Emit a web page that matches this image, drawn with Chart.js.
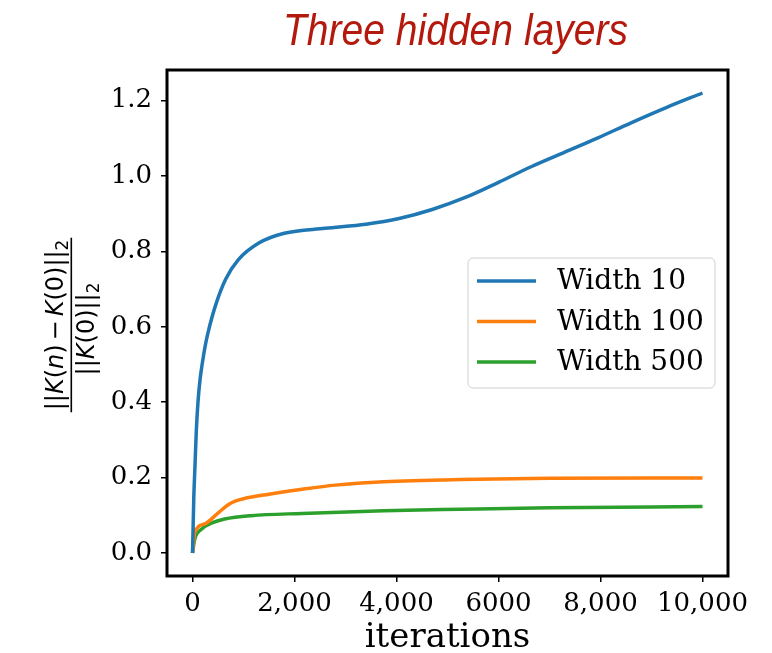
<!DOCTYPE html>
<html>
<head>
<meta charset="utf-8">
<script src="https://cdn.jsdelivr.net/npm/chart.js@4/dist/chart.umd.min.js"></script>
<style>
  html, body { margin: 0; padding: 0; background: #ffffff; }
  #wrap { width: 772px; height: 653px; }
</style>
</head>
<body>
<div id="wrap"><canvas id="c" width="772" height="653"></canvas></div>
<script>
// Kernel drift ||K(n) - K(0)||_2 / ||K(0)||_2 against training iterations
const titleText = 'Three hidden layers';
const xAxisTitle = 'iterations';

const seriesLabels = ['Width 10', 'Width 100', 'Width 500'];
const seriesColors = ['#1f77b4', '#ff7f0e', '#2ca02c'];

const width10Iter = [0, 10, 25, 50, 75, 110, 150, 200, 250, 300, 450, 650, 900, 1300, 1800, 2600, 3400, 4050, 4700, 5350, 6000, 6650, 7300, 7950, 8600, 9300, 10000];
const width10Vals = [0.0, 0.055, 0.145, 0.235, 0.325, 0.405, 0.462, 0.510, 0.550, 0.582, 0.656, 0.726, 0.778, 0.822, 0.848, 0.861, 0.872, 0.887, 0.911, 0.943, 0.983, 1.025, 1.063, 1.101, 1.141, 1.182, 1.220];

const width100Iter = [0, 45, 240, 500, 700, 850, 1000, 1500, 2150, 2800, 3750, 5250, 7000, 10000];
const width100Vals = [0.0, 0.055, 0.077, 0.106, 0.128, 0.138, 0.144, 0.156, 0.169, 0.180, 0.189, 0.195, 0.198, 0.199];

const width500Iter = [0, 45, 175, 370, 630, 1150, 2150, 3750, 5250, 7000, 10000];
const width500Vals = [0.0, 0.037, 0.063, 0.079, 0.090, 0.099, 0.105, 0.112, 0.116, 0.120, 0.123];

const xTickValues = [0, 2000, 4000, 6000, 8000, 10000];
const xTickLabels = ['0', '2,000', '4,000', '6000', '8,000', '10,000'];
const yTickValues = [0.0, 0.2, 0.4, 0.6, 0.8, 1.0, 1.2];
const yTickLabels = ['0.0', '0.2', '0.4', '0.6', '0.8', '1.0', '1.2'];

const pairs = (xs, ys) => xs.map((x, i) => ({ x: x, y: ys[i] }));
const seriesData = [
  pairs(width10Iter, width10Vals),
  pairs(width100Iter, width100Vals),
  pairs(width500Iter, width500Vals)
];

const SERIF = '"DejaVu Serif", "Liberation Serif", serif';
const SANS = '"DejaVu Sans", sans-serif';

// heavy black box around the plotting area
const framePlugin = {
  id: 'frame',
  afterDatasetsDraw(chart) {
    const a = chart.chartArea, ctx = chart.ctx;
    ctx.save();
    ctx.strokeStyle = '#000';
    ctx.lineWidth = 3;
    ctx.strokeRect(a.left, a.top, a.right - a.left, a.bottom - a.top);
    ctx.restore();
  }
};

// red italic heading over the axes, plus the x-axis caption
const headingPlugin = {
  id: 'heading',
  afterDraw(chart) {
    const ctx = chart.ctx, a = chart.chartArea;
    const mid = (a.left + a.right) / 2;
    ctx.save();
    ctx.font = 'italic 44px "Liberation Sans Narrow", "Liberation Sans", sans-serif';
    ctx.fillStyle = '#b31a0d';
    ctx.textBaseline = 'alphabetic';
    const w = ctx.measureText(titleText).width;
    ctx.translate(mid + 8, 45);
    ctx.scale(345 / w, 1);
    ctx.textAlign = 'center';
    ctx.fillText(titleText, 0, 0);
    ctx.restore();

    ctx.save();
    ctx.font = '34px ' + SERIF;
    ctx.fillStyle = '#000';
    ctx.textAlign = 'center';
    ctx.textBaseline = 'alphabetic';
    ctx.fillText(xAxisTitle, mid, 647);
    ctx.restore();
  }
};

// rotated fraction used as the y-axis label
function drawRuns(ctx, runs, size, startU, baseV) {
  let u = startU;
  for (const r of runs) {
    if (r.sub) {
      ctx.font = (size * 0.7) + 'px ' + SANS;
      ctx.fillText(r.t, u, baseV + size * 0.2);
      u += ctx.measureText(r.t).width;
    } else {
      ctx.font = (r.it ? 'italic ' : '') + size + 'px ' + SANS;
      ctx.fillText(r.t, u, baseV);
      u += ctx.measureText(r.t).width + (r.gap || 0);
    }
  }
}
function runsWidth(ctx, runs, size) {
  let w = 0;
  for (const r of runs) {
    ctx.font = (r.sub ? '' : (r.it ? 'italic ' : '')) + (r.sub ? size * 0.7 : size) + 'px ' + SANS;
    w += ctx.measureText(r.t).width + (r.gap || 0);
  }
  return w;
}
const yLabelPlugin = {
  id: 'yLabel',
  afterDraw(chart) {
    const ctx = chart.ctx;
    const size = 24;
    const num = [
      { t: '||' }, { t: 'K', it: true }, { t: '(' }, { t: 'n', it: true }, { t: ')', gap: 4 },
      { t: '\u2212', gap: 4 }, { t: 'K', it: true }, { t: '(0)||' }, { t: '2', sub: true }
    ];
    const den = [{ t: '||' }, { t: 'K', it: true }, { t: '(0)||' }, { t: '2', sub: true }];
    ctx.save();
    ctx.fillStyle = '#000';
    ctx.textBaseline = 'alphabetic';
    ctx.textAlign = 'left';
    ctx.translate(0, 325);
    ctx.rotate(-Math.PI / 2);
    // u runs upward on screen, v runs rightward on screen
    const wn = runsWidth(ctx, num, size);
    const wd = runsWidth(ctx, den, size);
    drawRuns(ctx, num, size, -wn / 2, 63);
    drawRuns(ctx, den, size, -wd / 2 - 4, 94);
    ctx.fillRect(-wn / 2 - 2, 70.5, wn + 4, 1.6);
    ctx.restore();
  }
};

// legend box inside the axes, built from the datasets
const legendBoxPlugin = {
  id: 'legendBox',
  afterDraw(chart) {
    const ctx = chart.ctx;
    const x0 = 468, y0 = 258, w = 247, h = 130, r = 5;
    ctx.save();
    ctx.beginPath();
    ctx.moveTo(x0 + r, y0);
    ctx.arcTo(x0 + w, y0, x0 + w, y0 + h, r);
    ctx.arcTo(x0 + w, y0 + h, x0, y0 + h, r);
    ctx.arcTo(x0, y0 + h, x0, y0, r);
    ctx.arcTo(x0, y0, x0 + w, y0, r);
    ctx.closePath();
    ctx.fillStyle = 'rgba(255,255,255,0.8)';
    ctx.fill();
    ctx.strokeStyle = '#d0d0d0';
    ctx.lineWidth = 1;
    ctx.stroke();
    ctx.font = '28px ' + SERIF;
    ctx.textBaseline = 'middle';
    ctx.textAlign = 'left';
    chart.data.datasets.forEach((ds, i) => {
      const y = 281 + i * 40.5;
      ctx.strokeStyle = ds.borderColor;
      ctx.lineWidth = 3.5;
      ctx.beginPath();
      ctx.moveTo(477, y);
      ctx.lineTo(536, y);
      ctx.stroke();
      ctx.fillStyle = '#000';
      ctx.fillText(ds.label, 557, y + 1);
    });
    ctx.restore();
  }
};

const chart = new Chart(document.getElementById('c'), {
  type: 'line',
  data: {
    datasets: seriesLabels.map((label, i) => ({
      label: label,
      data: seriesData[i],
      borderColor: seriesColors[i],
      backgroundColor: seriesColors[i],
      borderWidth: 3.5,
      pointRadius: 0,
      fill: false,
      cubicInterpolationMode: 'monotone'
    }))
  },
  options: {
    responsive: false,
    animation: false,
    devicePixelRatio: 1,
    layout: { padding: { left: 0, top: 70, right: 44, bottom: 0 } },
    plugins: {
      legend: { display: false },
      title: { display: false },
      tooltip: { enabled: false }
    },
    scales: {
      x: {
        type: 'linear',
        min: -500,
        max: 10500,
        afterBuildTicks(scale) { scale.ticks = xTickValues.map(v => ({ value: v })); },
        afterFit(scale) { scale.height = 77; },
        ticks: {
          color: '#000',
          font: { family: SERIF, size: 26 },
          padding: 7,
          maxRotation: 0,
          autoSkip: false,
          callback: (v) => xTickLabels[xTickValues.indexOf(v)] ?? ''
        },
        grid: { drawOnChartArea: false, drawTicks: true, tickLength: 6, color: '#000', lineWidth: 1.5 },
        border: { display: false }
      },
      y: {
        type: 'linear',
        min: -0.061,
        max: 1.281,
        afterBuildTicks(scale) { scale.ticks = yTickValues.map(v => ({ value: v })); },
        afterFit(scale) { scale.width = 167; },
        ticks: {
          color: '#000',
          font: { family: SERIF, size: 26 },
          padding: 9,
          autoSkip: false,
          callback: (v) => {
            const k = yTickValues.findIndex(t => Math.abs(t - v) < 1e-9);
            return k >= 0 ? yTickLabels[k] : '';
          }
        },
        grid: { drawOnChartArea: false, drawTicks: true, tickLength: 6, color: '#000', lineWidth: 1.5 },
        border: { display: false }
      }
    }
  },
  plugins: [framePlugin, headingPlugin, yLabelPlugin, legendBoxPlugin]
});
</script>
</body>
</html>
